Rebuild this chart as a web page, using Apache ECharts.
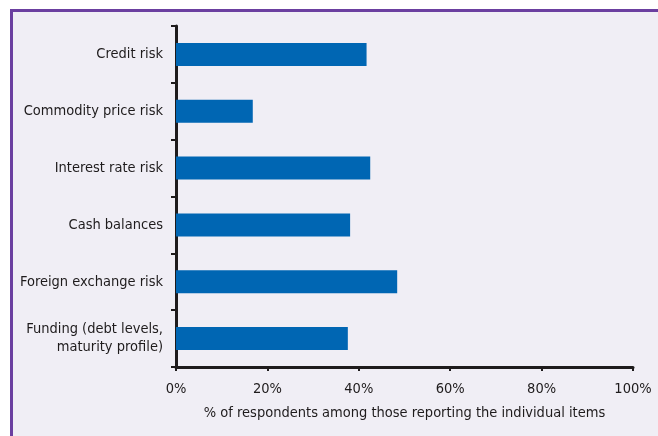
<!DOCTYPE html>
<html>
<head>
<meta charset="utf-8">
<script src="https://cdn.jsdelivr.net/npm/echarts@6/dist/echarts.min.js"></script>
<style>
  html, body { margin: 0; padding: 0; background: #ffffff; width: 658px; height: 436px; overflow: hidden; }
  #frame { position: absolute; left: 10px; top: 9px; width: 660px; height: 440px; background: #f0eef5; border-left: 3px solid #6b3fa0; border-top: 3px solid #6b3fa0; box-sizing: border-box; }
  #chart { position: absolute; left: 0; top: 0; width: 658px; height: 436px; }
</style>
</head>
<body>
<div id="frame"></div>
<div id="chart"></div>
<script>
const categories = [
  "Credit risk",
  "Commodity price risk",
  "Interest rate risk",
  "Cash balances",
  "Foreign exchange risk",
  "Funding (debt levels,\nmaturity profile)"
];
const values = [41.7, 16.8, 42.5, 38.1, 48.4, 37.6];
const xTicks = [0, 20, 40, 60, 80, 100];
const axisName = "% of respondents among those reporting the individual items";

const FONT = "'DejaVu Sans Condensed', 'Liberation Sans Narrow', sans-serif";
const TXT = "#1e1b1c";

const chart = echarts.init(document.getElementById('chart'), null, { renderer: 'canvas' });
chart.setOption({
  animation: false,
  backgroundColor: 'transparent',
  textStyle: { fontFamily: FONT },
  grid: { left: 176, top: 26, width: 457, height: 341, containLabel: false },
  xAxis: {
    type: 'value',
    min: xTicks[0],
    max: xTicks[xTicks.length - 1],
    interval: xTicks[1] - xTicks[0],
    axisLine: { show: true, lineStyle: { color: TXT, width: 3 } },
    axisTick: { show: true, length: 4, lineStyle: { color: TXT, width: 2 } },
    splitLine: { show: false },
    axisLabel: { formatter: '{value}%', color: TXT, fontSize: 14.5, fontFamily: FONT, margin: 15 },
    name: axisName,
    nameLocation: 'middle',
    nameGap: 39,
    nameTextStyle: { color: TXT, fontSize: 14.5, fontFamily: FONT }
  },
  yAxis: {
    type: 'category',
    data: categories,
    inverse: true,
    boundaryGap: true,
    axisLine: { show: true, lineStyle: { color: TXT, width: 3 } },
    axisTick: { show: true, length: 5, lineStyle: { color: TXT, width: 2 } },
    axisLabel: { color: TXT, fontSize: 14.5, fontFamily: FONT, margin: 13, lineHeight: 18, align: 'right', padding: [6, 0, 0, 0] }
  },
  series: [{
    type: 'bar',
    data: values,
    barWidth: 23,
    itemStyle: { color: '#0066b3' }
  }]
});
</script>
</body>
</html>
